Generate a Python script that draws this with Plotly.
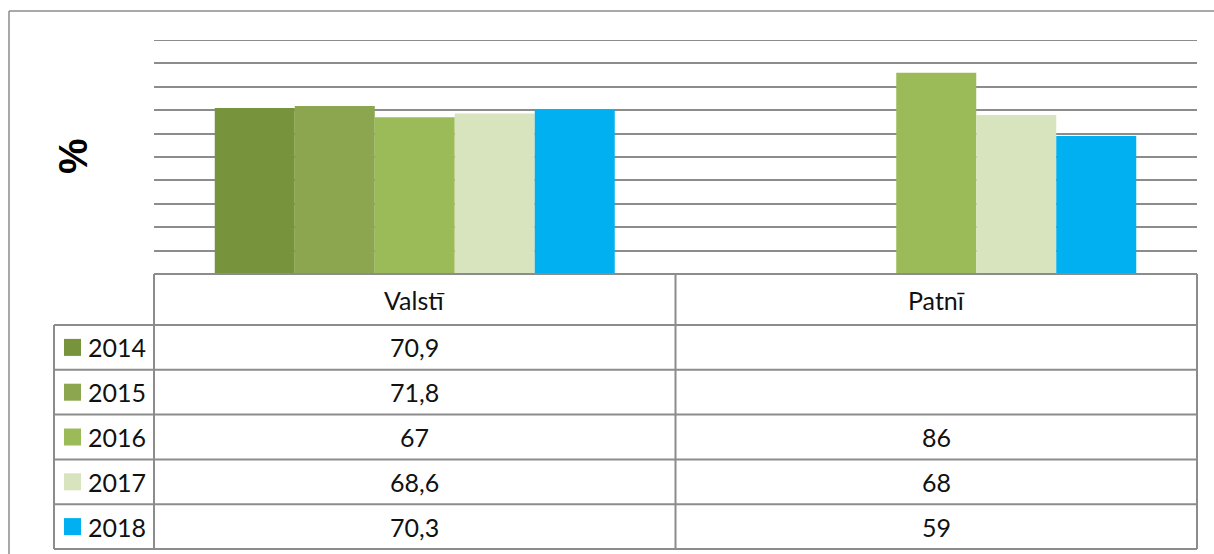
import plotly.graph_objects as go

# Data
categories = ["Valstī", "Patnī"]
years = ["2014", "2015", "2016", "2017", "2018"]
v2014 = [70.9, None]
v2015 = [71.8, None]
v2016 = [67, 86]
v2017 = [68.6, 68]
v2018 = [70.3, 59]
series = [v2014, v2015, v2016, v2017, v2018]
colors = ["#77933c", "#8ba64e", "#9bbb59", "#d7e4bd", "#00b0f0"]

# Page geometry (pixels)
W, H = 1214, 554
plot_left, plot_right = 154, 1197
plot_top, plot_bottom = 40, 274
header_bottom = 325
table_bottom = 549
legend_left = 54
row_h = (table_bottom - header_bottom) / len(years)
line_col = "#8c8c8c"
font_family = "Lato, 'Open Sans', sans-serif"
y_max = 100


def px(x):
    return x / W


def py(y):
    return 1 - y / H


fig = go.Figure()
for year, vals, col in zip(years, series, colors):
    fig.add_trace(go.Bar(x=categories, y=vals, name=year, marker_color=col,
                         marker_line_width=0, showlegend=False))

shapes = []
annotations = []


def hline(y, x0, x1, w=2):
    shapes.append(dict(type="line", xref="paper", yref="paper", x0=px(x0), x1=px(x1),
                       y0=py(y), y1=py(y), line=dict(color=line_col, width=w)))


def vline(x, y0, y1, w=2):
    shapes.append(dict(type="line", xref="paper", yref="paper", x0=px(x), x1=px(x),
                       y0=py(y0), y1=py(y1), line=dict(color=line_col, width=w)))


# outer chart border (left and top)
vline(9, 11, H, 1.5)
hline(11, 9, W, 1.5)

# top gridline (plotly skips the one sitting on the plot edge)
shapes.append(dict(type="line", xref="paper", yref="y", x0=px(plot_left),
                   x1=px(plot_right), y0=y_max, y1=y_max, layer="below",
                   line=dict(color=line_col, width=2)))

# data table grid
col_w = (plot_right - plot_left) / len(categories)
hline(plot_bottom, plot_left, plot_right)
for i in range(len(years) + 1):
    hline(header_bottom + i * row_h, legend_left, plot_right)
vline(legend_left, header_bottom, table_bottom)
for j in range(len(categories) + 1):
    vline(plot_left + j * col_w, plot_bottom, table_bottom)

txt_font = dict(family=font_family, size=25, color="#111111")

# header texts
for j, cat in enumerate(categories):
    annotations.append(dict(text=cat, xref="paper", yref="paper", showarrow=False,
                            x=px(plot_left + (j + 0.5) * col_w),
                            y=py((plot_bottom + header_bottom) / 2),
                            xanchor="center", yanchor="middle", font=txt_font))

# rows: legend key + values
for i, (year, vals, col) in enumerate(zip(years, series, colors)):
    yc = header_bottom + (i + 0.5) * row_h
    shapes.append(dict(type="rect", xref="paper", yref="paper",
                       x0=px(64), x1=px(81), y0=py(yc - 8.5), y1=py(yc + 8.5),
                       fillcolor=col, line=dict(width=0)))
    annotations.append(dict(text=year, xref="paper", yref="paper", showarrow=False,
                            x=px(86), y=py(yc), xanchor="left", yanchor="middle",
                            font=txt_font))
    for j, v in enumerate(vals):
        if v is None:
            continue
        label = f"{v:g}".replace(".", ",")
        annotations.append(dict(text=label, xref="paper", yref="paper", showarrow=False,
                                x=px(plot_left + (j + 0.5) * col_w), y=py(yc),
                                xanchor="center", yanchor="middle", font=txt_font))

# axis title
annotations.append(dict(text="<b>%</b>", xref="paper", yref="paper", showarrow=False,
                        x=px(73), y=py(156), textangle=-90, xanchor="center",
                        yanchor="middle",
                        font=dict(family="Liberation Sans, Arial, sans-serif", size=40,
                                  color="#000000")))

fig.update_layout(
    width=W, height=H, autosize=False,
    margin=dict(l=0, r=0, t=0, b=0),
    paper_bgcolor="white", plot_bgcolor="white",
    barmode="group", bargap=0.233, bargroupgap=0,
    xaxis=dict(domain=[px(plot_left), px(plot_right)], showticklabels=False,
               showline=False, showgrid=False, zeroline=False, ticks=""),
    yaxis=dict(domain=[py(plot_bottom), py(plot_top)], range=[0, y_max], dtick=10,
               showticklabels=False, showgrid=True, gridcolor=line_col, gridwidth=2,
               zeroline=False, showline=False, ticks=""),
    shapes=shapes,
    annotations=annotations,
)

fig.write_html("out.html", config={"displayModeBar": False},
               post_script="document.body.style.margin='0';")
